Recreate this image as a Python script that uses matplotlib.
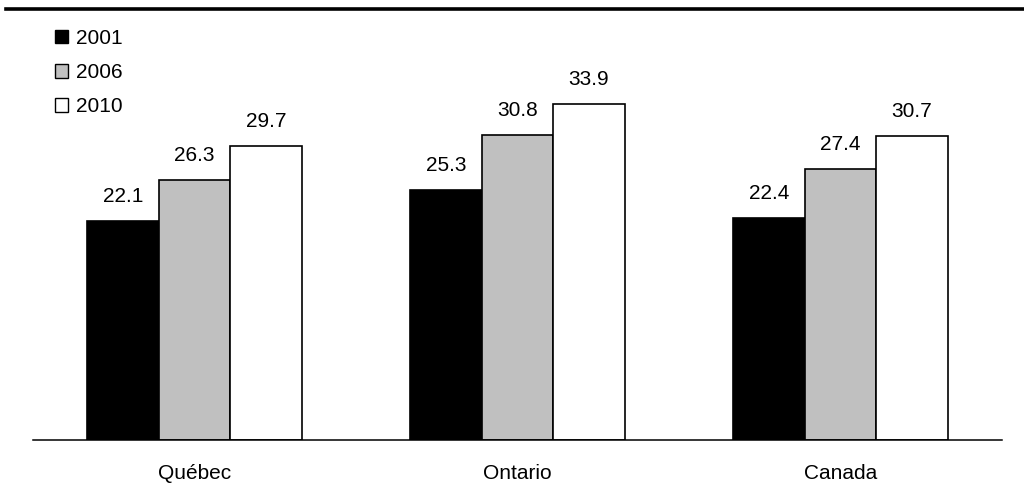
import matplotlib
matplotlib.use("Agg")
import matplotlib.pyplot as plt
from matplotlib.patches import Patch
from matplotlib.lines import Line2D
import numpy as np

plt.rcParams['font.family'] = ['Liberation Sans', 'DejaVu Sans']

regions = ["Québec", "Ontario", "Canada"]
years = ["2001", "2006", "2010"]
values_2001 = [22.1, 25.3, 22.4]
values_2006 = [26.3, 30.8, 27.4]
values_2010 = [29.7, 33.9, 30.7]
series = [values_2001, values_2006, values_2010]
fills = ["#000000", "#C0C0C0", "#FFFFFF"]

W, H = 1024, 503
fig = plt.figure(figsize=(W / 100, H / 100), dpi=100)
ax = fig.add_axes([33 / W, 63 / H, 969 / W, 396 / H])

x = np.arange(len(regions))
bw = 0.2214
for i, (vals, col) in enumerate(zip(series, fills)):
    pos = x + (i - 1) * bw
    ax.bar(pos, vals, width=bw, color=col, edgecolor="black", linewidth=1.2, zorder=2)
    for p, v in zip(pos, vals):
        ax.annotate(f"{v:.1f}", (p, v), xytext=(0, 13.7), textcoords="offset points",
                    ha="center", va="baseline", fontsize=15)

ax.set_xlim(-0.5, 2.5)
ax.set_ylim(0, 40)
for s in ["top", "left", "right"]:
    ax.spines[s].set_visible(False)
ax.spines["bottom"].set_linewidth(1.1)
ax.set_yticks([])
ax.set_xticks(x)
ax.set_xticklabels(regions, fontsize=15)
ax.tick_params(axis="x", length=0, pad=17.5)

# heavy rule across the top
fig.add_artist(Line2D([6 / W, 1.0], [1 - 9 / H, 1 - 9 / H], color="black", linewidth=2.6))

handles = [Patch(facecolor=c, edgecolor="black", linewidth=1.0) for c in fills]
fig.legend(handles, years, loc="upper left", bbox_to_anchor=(55 / W, 1 - 29 / H),
           frameon=False, fontsize=15, handlelength=0.63, handleheight=0.63,
           handletextpad=0.38, labelspacing=0.73, borderpad=0, borderaxespad=0)

fig.savefig("out.png", dpi=100)
